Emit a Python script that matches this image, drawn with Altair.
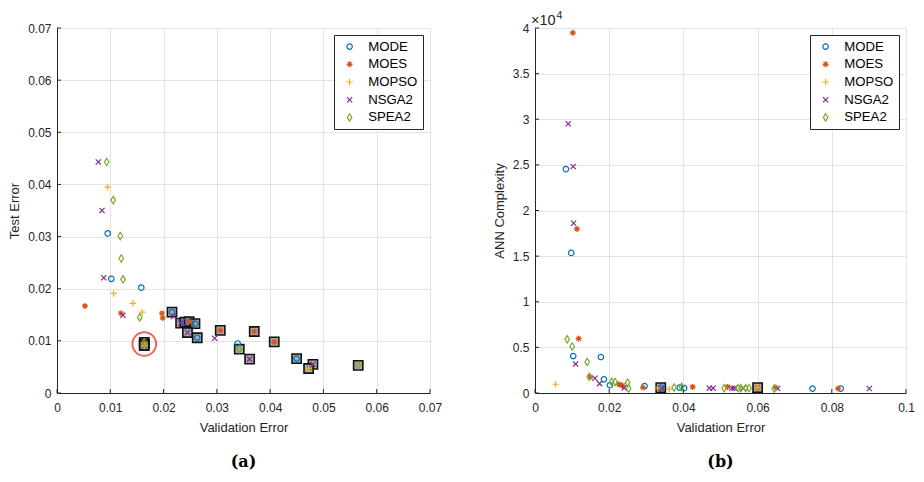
import altair as alt
import pandas as pd

ALGS = ["MODE", "MOES", "MOPSO", "NSGA2", "SPEA2"]
COLORS = ["#0072BD", "#D95319", "#EDB120", "#7E2F8E", "#77AC30"]
SHAPES = [
    "circle",
    "M-1,0L1,0M0,-1L0,1M-0.7,-0.7L0.7,0.7M-0.7,0.7L0.7,-0.7",
    "M-1,0L1,0M0,-1L0,1",
    "M-0.75,-0.75L0.75,0.75M-0.75,0.75L0.75,-0.75",
    "M0,-1L0.62,0L0,1L-0.62,0Z",
]
SIZES = [30, 55, 70, 70, 70]

# ---- panel (a): validation error vs test error ----
a_mode_val = [0.00951, 0.01019, 0.01582, 0.02158, 0.0240, 0.02589, 0.02632, 0.0339, 0.04497]
a_mode_test = [0.0306, 0.0219, 0.0202, 0.0155, 0.0136, 0.0133, 0.0106, 0.0095, 0.0066]
a_moes_val = [0.00525, 0.0120, 0.0197, 0.01983, 0.0248, 0.03064, 0.03702, 0.04077, 0.01638]
a_moes_test = [0.0167, 0.0153, 0.0153, 0.0144, 0.0137, 0.0120, 0.0118, 0.0098, 0.0094]
a_mopso_val = [0.00951, 0.01064, 0.01426, 0.01595, 0.04722, 0.01638]
a_mopso_test = [0.0395, 0.0191, 0.0172, 0.0155, 0.0047, 0.0091]
a_nsga2_val = [0.00775, 0.00844, 0.00876, 0.01238, 0.0219, 0.0232, 0.02448, 0.02959, 0.03615, 0.04803]
a_nsga2_test = [0.0443, 0.0350, 0.0221, 0.0149, 0.0147, 0.0134, 0.0116, 0.0105, 0.0065, 0.0055]
a_spea2_val = [0.00932, 0.01056, 0.01188, 0.01206, 0.01238, 0.01552, 0.0342, 0.05653, 0.01638]
a_spea2_test = [0.0443, 0.0370, 0.0301, 0.0258, 0.0218, 0.0145, 0.0084, 0.0053, 0.0097]

a_box_val = [0.02158, 0.0232, 0.0240, 0.0248, 0.02589, 0.02448, 0.02632, 0.03064, 0.03702,
             0.0342, 0.03615, 0.04077, 0.04497, 0.04803, 0.04722, 0.05653, 0.01638, 0.01638, 0.01638]
a_box_test = [0.0155, 0.0134, 0.0136, 0.0137, 0.0133, 0.0116, 0.0106, 0.0120, 0.0118,
              0.0084, 0.0065, 0.0098, 0.0066, 0.0055, 0.0047, 0.0053, 0.0097, 0.0094, 0.0091]
a_circle_val = [0.01638]
a_circle_test = [0.0094]

# ---- panel (b): validation error vs ANN complexity ----
b_mode_val = [0.00833, 0.00976, 0.0103, 0.01776, 0.01857, 0.0202, 0.02954, 0.0339, 0.039, 0.0402, 0.0748, 0.0824]
b_mode_cx = [24535, 15356, 4050, 3942, 1501, 853, 745, 594, 594, 529, 486, 486]
b_moes_val = [0.0102, 0.0113, 0.01175, 0.01488, 0.02253, 0.02315, 0.0236, 0.0291, 0.0425, 0.0519, 0.06, 0.0649, 0.0817]
b_moes_cx = [39470, 17980, 5961, 1750, 961, 886, 810, 594, 670, 670, 594, 594, 486]
b_mopso_val = [0.00555, 0.033, 0.03617, 0.06]
b_mopso_cx = [961, 529, 421, 594]
b_nsga2_val = [0.00895, 0.0103, 0.0104, 0.01094, 0.01615, 0.0174, 0.02404, 0.0341, 0.047, 0.048,
               0.0531, 0.0537, 0.0561, 0.0654, 0.0901]
b_nsga2_cx = [29503, 24826, 18596, 3186, 1609, 1026, 562, 529, 529, 529, 529, 529, 529, 486, 486]
b_spea2_val = [0.00868, 0.01003, 0.01407, 0.01461, 0.02065, 0.0216, 0.02496, 0.02523, 0.0375, 0.0395,
               0.051, 0.0548, 0.0555, 0.0568, 0.0577, 0.0645]
b_spea2_cx = [5886, 5097, 3402, 1782, 1210, 1210, 1134, 486, 594, 670, 529, 529, 529, 529, 529, 486]
b_box_val = [0.0339, 0.06]
b_box_cx = [594, 594]

a_xticks = [0, 0.01, 0.02, 0.03, 0.04, 0.05, 0.06, 0.07]
a_yticks = [0, 0.01, 0.02, 0.03, 0.04, 0.05, 0.06, 0.07]
b_xticks = [0, 0.02, 0.04, 0.06, 0.08, 0.1]
b_yticks = [0, 5000, 10000, 15000, 20000, 25000, 30000, 35000, 40000]

FONT = "Liberation Sans"
AX = "#262626"
PH = 365


def frame(pairs):
    rows = []
    for alg, xs, ys in pairs:
        for x, y in zip(xs, ys):
            rows.append({"alg": alg, "x": x, "y": y})
    return pd.DataFrame(rows)


def panel(df, box_df, xdom, ydom, xt, yt, ytitle, W, H, title, ylabel_expr=None, extra=None):
    xs = alt.Scale(domain=xdom, nice=False, zero=False)
    ys = alt.Scale(domain=ydom, nice=False, zero=False)
    xaxis = alt.Axis(values=xt, format=".2~f", title="Validation Error", ticks=False,
                     grid=True, gridColor="#e3e3e3", domainColor=AX, labelColor=AX,
                     labelFont=FONT, labelFontSize=12, titleFont=FONT, titleFontSize=13,
                     titleFontWeight="normal", titleColor=AX, labelPadding=9, titlePadding=8,
                     labelFlush=False)
    yargs = dict(values=yt, title=ytitle, ticks=False, grid=True, gridColor="#e3e3e3",
                 domainColor=AX, labelColor=AX, labelFont=FONT, labelFontSize=12,
                 titleFont=FONT, titleFontSize=13, titleFontWeight="normal", titleColor=AX,
                 labelPadding=6, titlePadding=6, labelFlush=False)
    if ylabel_expr:
        yargs["labelExpr"] = ylabel_expr
    else:
        yargs["format"] = ".2~f"
    yaxis = alt.Axis(**yargs)

    boxes = alt.Chart(box_df).mark_point(shape="square", filled=True, fill="#8c8c8c",
                                         fillOpacity=0.75, stroke="#111111",
                                         strokeWidth=1.6, size=85).encode(
        x=alt.X("x:Q", scale=xs, axis=xaxis),
        y=alt.Y("y:Q", scale=ys, axis=yaxis),
    )
    pts = alt.Chart(df).mark_point(filled=False, strokeWidth=1.2, opacity=1).encode(
        x=alt.X("x:Q", scale=xs),
        y=alt.Y("y:Q", scale=ys),
        color=alt.Color("alg:N", scale=alt.Scale(domain=ALGS, range=COLORS),
                        legend=alt.Legend(title=None, orient="top-right", offset=7,
                                          labelFont=FONT, labelFontSize=13.2, labelColor="#000",
                                          symbolSize=30, symbolStrokeWidth=1.2,
                                          fillColor="white", strokeColor=AX, padding=5,
                                          rowPadding=3.7, labelOffset=12, symbolOffset=4)),
        shape=alt.Shape("alg:N", scale=alt.Scale(domain=ALGS, range=SHAPES)),
        size=alt.Size("alg:N", scale=alt.Scale(domain=ALGS, range=SIZES), legend=None),
    )
    xt_df = pd.DataFrame({"v": xt})
    yt_df = pd.DataFrame({"v": yt})
    xticks = alt.Chart(xt_df).mark_rule(color=AX, strokeWidth=1).encode(
        x=alt.X("v:Q", scale=xs), y=alt.value(H), y2=alt.value(H - 4))
    yticks = alt.Chart(yt_df).mark_rule(color=AX, strokeWidth=1).encode(
        y=alt.Y("v:Q", scale=ys), x=alt.value(0), x2=alt.value(4))
    layers = [boxes, xticks, yticks, pts]
    if extra is not None:
        layers += extra
    return alt.layer(*layers).properties(
        width=W, height=H,
        title=alt.Title(title, orient="bottom", font="DejaVu Serif", fontWeight="bold",
                        fontSize=16, color="#000", offset=20),
    )


df_a = frame([("MODE", a_mode_val, a_mode_test), ("MOES", a_moes_val, a_moes_test),
              ("MOPSO", a_mopso_val, a_mopso_test), ("NSGA2", a_nsga2_val, a_nsga2_test),
              ("SPEA2", a_spea2_val, a_spea2_test)])
box_a = pd.DataFrame({"x": a_box_val, "y": a_box_test})
circ_a = pd.DataFrame({"x": a_circle_val, "y": a_circle_test})

df_b = frame([("MODE", b_mode_val, b_mode_cx), ("MOES", b_moes_val, b_moes_cx),
              ("MOPSO", b_mopso_val, b_mopso_cx), ("NSGA2", b_nsga2_val, b_nsga2_cx),
              ("SPEA2", b_spea2_val, b_spea2_cx)])
box_b = pd.DataFrame({"x": b_box_val, "y": b_box_cx})

scale_a_x = alt.Scale(domain=[0, 0.07], nice=False, zero=False)
scale_a_y = alt.Scale(domain=[0, 0.07], nice=False, zero=False)
circle = alt.Chart(circ_a).mark_point(shape="circle", filled=False, stroke="#e8231c",
                                      strokeWidth=2, size=560).encode(
    x=alt.X("x:Q", scale=scale_a_x), y=alt.Y("y:Q", scale=scale_a_y))

exp_base = alt.Chart(pd.DataFrame({"t": ["×10"]})).mark_text(
    align="left", baseline="alphabetic", font=FONT, fontSize=14.5, color=AX).encode(
    text="t:N", x=alt.value(-4), y=alt.value(-3.5))
exp_pow = alt.Chart(pd.DataFrame({"t": ["4"]})).mark_text(
    align="left", baseline="alphabetic", font=FONT, fontSize=10.5, color=AX).encode(
    text="t:N", x=alt.value(21.5), y=alt.value(-9))

left = panel(df_a, box_a, [0, 0.07], [0, 0.07], a_xticks, a_yticks, "Test Error",
             373, PH, "(a)", extra=[circle])
right = panel(df_b, box_b, [0, 0.1], [0, 40000], b_xticks, b_yticks, "ANN Complexity",
              371, PH, "(b)", ylabel_expr="format(datum.value/10000, '~g')",
              extra=[exp_base, exp_pow])

chart = alt.hconcat(left, right, spacing=105, bounds="flush").resolve_scale(
    color="independent", shape="independent", size="independent"
).resolve_legend(color="independent", shape="independent").configure_view(
    stroke=None
).properties(padding={"left": 0, "top": 3, "right": 0, "bottom": 0})

chart.save("out.html", embed_options={"renderer": "svg", "actions": False})
